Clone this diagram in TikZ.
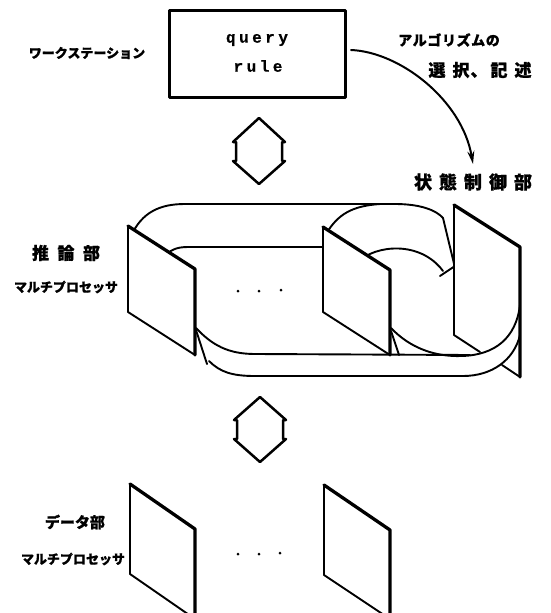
\documentclass[tikz,border=0pt]{standalone}
\usepackage{fontspec}
\newfontfamily\jp{Noto Sans CJK JP}[BoldFeatures={FakeBold=0.8}]
\setmonofont{Liberation Mono}[BoldFeatures={FakeBold=0.5}]
\usetikzlibrary{arrows.meta}
\newcommand\gp[1]{\hspace{#1pt}}
\begin{document}
\begin{tikzpicture}[x=1pt,y=-1pt, line join=round, line cap=round,
  thinline/.style={line width=1.9pt},
  heavyedge/.style={line width=3.3pt},
  hexarrow/.style={line width=2.5pt},
  jplabel/.style={font=\jp\bfseries, inner sep=0pt},
  ttlabel/.style={font=\ttfamily\bfseries\fontsize{16}{16}\selectfont, inner sep=0pt},
  dotmark/.style={fill=black, circle, inner sep=0pt, minimum size=3pt}]
\useasboundingbox (0,0) rectangle (550,613);

% ---------- workstation box ----------
\node[draw, line width=3pt, minimum width=176pt, minimum height=87pt, inner sep=0pt] (box) at (257.5,54) {};
\node[ttlabel] (query) at (257,40) {q\gp{3.5}u\gp{3.5}e\gp{3.5}r\gp{3.5}y};
\node[ttlabel] (rule) at (258,66) {r\gp{3.5}u\gp{3.5}l\gp{3.5}e};
\node[jplabel, font=\jp\bfseries\fontsize{13}{13}\selectfont] (ws) at (87,53) {ワークステーション};

% ---------- algorithm arrow ----------
\node[jplabel, font=\jp\bfseries\fontsize{14}{14}\selectfont] (algo) at (449,40) {ア\gp{0.6}ル\gp{0.6}ゴ\gp{0.6}リ\gp{0.6}ズ\gp{0.6}ム\gp{0.6}の};
\node[jplabel, font=\jp\bfseries\fontsize{17}{17}\selectfont] (sel) at (480,70) {選\gp{7}択\gp{1}、\gp{3}記\gp{7}述};
\node[jplabel, font=\jp\bfseries\fontsize{18}{18}\selectfont] (ctrl) at (473,182) {状\gp{7}態\gp{7}制\gp{7}御\gp{7}部};
\coordinate (arrowend) at (473,164);
\draw[line width=2pt, -{Stealth[length=13pt,width=7pt]}] ([xshift=4pt,yshift=4pt]box.east) .. controls (400,52) and (462,100) .. (arrowend);

% ---------- upper double arrow ----------
\draw[hexarrow] (259,118) -- (233,142) -- (236,142) -- (236,161) -- (233,161) -- (259,184)
  -- (285,161) -- (282,161) -- (282,142) -- (285,142) -- cycle;

% ---------- inference ring: back lines ----------
\draw[thinline] (131,236) .. controls (142,212) and (160,204) .. (185,204) -- (395,204)
  .. controls (420,204) and (436,210) .. (443,218) -- (456,272);
\draw[thinline] (326,234) .. controls (338,214) and (352,206) .. (380,204);
\draw[thinline] (163,258) .. controls (170,250) and (176,247) .. (188,247) -- (330,247);
\draw[thinline] (358,262) .. controls (375,245) and (420,240) .. (443,271);
\draw[thinline] (440,276) -- (458,264);

% ---------- inference panels ----------
\fill[white] (128,226) -- (195,269) -- (195,355) -- (128,312) -- cycle;
\draw[thinline] (195,355) -- (128,312) -- (128,226);
\draw[heavyedge] (128,226) -- (195,269) -- (195,355);

\fill[white] (323,227) -- (390,270) -- (390,355) -- (323,312) -- cycle;
\draw[thinline] (390,355) -- (323,312) -- (323,227);
\draw[heavyedge] (323,227) -- (390,270) -- (390,355);

\fill[white] (454,205) -- (520,247) -- (520,377) -- (454,335) -- cycle;
\draw[thinline] (480,352) -- (454,335) -- (454,205);
\draw[thinline] (502,365) -- (520,377);
\draw[heavyedge] (454,205) -- (520,247) -- (520,377);

% ---------- inference ring: front lines ----------
\draw[thinline] (391,328) .. controls (410,348) and (435,357) .. (462,356)
  .. controls (495,355) and (516,338) .. (520,305);
\draw[thinline] (196,328) .. controls (212,345) and (228,354) .. (255,354) -- (470,355);
\draw[thinline] (209,361) .. controls (220,372) and (232,376) .. (255,376) -- (463,376)
  .. controls (492,376) and (514,360) .. (520,335);
\draw[thinline] (196,330) -- (207,364);
\draw[thinline] (391,331) -- (399,355);

\node[dotmark] (d1) at (238,291) {};
\node[dotmark] (d2) at (259,291) {};
\node[dotmark] (d3) at (281,290) {};

\node[jplabel, font=\jp\bfseries\fontsize{17}{17}\selectfont] (inf) at (66,253) {推\gp{8.5}論\gp{8.5}部};
\node[jplabel, font=\jp\bfseries\fontsize{13}{13}\selectfont] (mp1) at (66,287) {マルチプロセッサ};

% ---------- lower double arrow ----------
\draw[hexarrow] (260,397) -- (234,420) -- (237,420) -- (237,439) -- (234,439) -- (260,462)
  -- (286,439) -- (283,439) -- (283,420) -- (286,420) -- cycle;

% ---------- data panels ----------
\draw[thinline] (195,619) -- (130,574) -- (130,484);
\draw[heavyedge] (130,484) -- (195,529) -- (195,619);
\draw[thinline] (390,619) -- (324,575) -- (324,485);
\draw[heavyedge] (324,485) -- (390,530) -- (390,619);

\node[dotmark] (e1) at (238,554) {};
\node[dotmark] (e2) at (259,554) {};
\node[dotmark] (e3) at (280,553) {};

\node[jplabel, font=\jp\bfseries\fontsize{15}{15}\selectfont] (data) at (75,522) {データ部};
\node[jplabel, font=\jp\bfseries\fontsize{13}{13}\selectfont] (mp2) at (73,559) {マルチプロセッサ};
\end{tikzpicture}
\end{document}
